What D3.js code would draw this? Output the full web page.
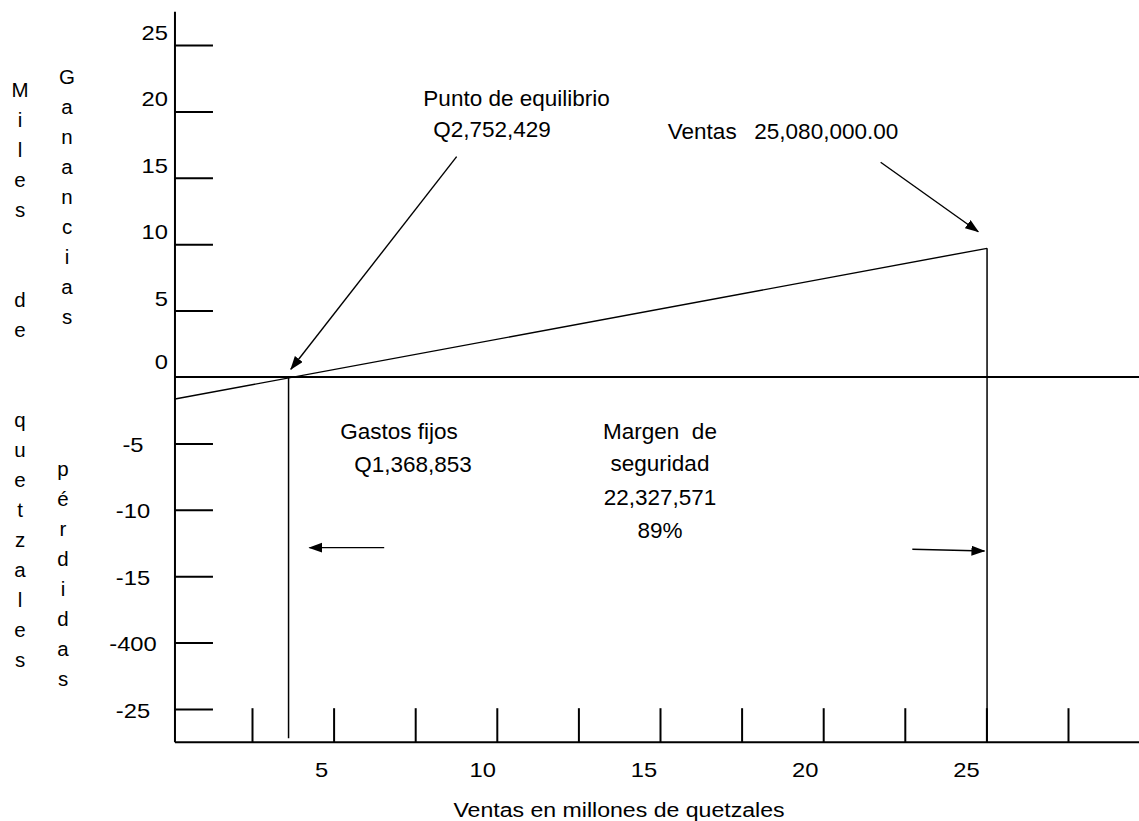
<!DOCTYPE html>
<html>
<head>
<meta charset="utf-8">
<script src="https://cdn.jsdelivr.net/npm/d3@7"></script>
<style>
  html, body { margin: 0; padding: 0; background: #fff; }
  svg { display: block; }
  text { font-family: "Liberation Sans", Arial, Helvetica, sans-serif; fill: #000; }
</style>
</head>
<body>
<svg id="chart" width="1139" height="821"></svg>
<script>
// ---------------- data ----------------
const yTickValues = [25, 20, 15, 10, 5, -5, -10, -15, -20, -25];
const yLabelValues = [25, 20, 15, 10, 5, 0, -5, -10, -15, -20, -25];
const yLabelTexts = ["25", "20", "15", "10", "5", "0", "-5", "-10", "-15", "-400", "-25"];
const xTickValues = [2.5, 5, 7.5, 10, 12.5, 15, 17.5, 20, 22.5, 25, 27.5];
const xLabelValues = [5, 10, 15, 20, 25];
const xLabelTexts = ["5", "10", "15", "20", "25"];
const xTitle = "Ventas en millones de quetzales";
const yTitleOuter = "Miles  de  quetzales";
const yTitleGain = "Ganancias";
const yTitleLoss = "pérdidas";

// profit line (millions of sales, thousands of quetzales)
const profitX = [0.14, 25.02];
const profitY = [-1.66, 9.69];
const breakEvenSales = 3.62;   // where the profit line meets zero
const totalSales = 25.02;      // Ventas 25,080,000.00
const bottomValue = -27.2;

// annotation texts
const breakEvenLabel = ["Punto de equilibrio", "Q2,752,429"];
const salesLabel = ["Ventas", "25,080,000.00"];
const fixedCostLabel = ["Gastos fijos", "Q1,368,853"];
const marginLabel = ["Margen  de", "seguridad", "22,327,571", "89%"];

// arrows [x1, y1, x2(tip), y2(tip)] in data units
const arrows = [
  [8.77, 16.59, 3.69, 0.58],
  [21.76, 16.17, 24.75, 10.94],
  [6.55, -12.85, 4.26, -12.85],
  [22.73, -12.97, 24.94, -13.10]
];

// ---------------- scales ----------------
const svg = d3.select("#chart");
const x = d3.scaleLinear().domain([0, 30]).range([170.4, 170.4 + 30 * 32.64]);
const y = d3.scaleLinear().domain([-27.5, 27.5]).range([742.2, 11.8]);
const xLabelPos = d3.scaleLinear().domain([5, 25]).range([x(5) - 12, x(25) - 20]);
const xAxisStart = 0.14;
const xAxisEnd = x.invert(1139);

const tickFont = 21;
const stretch = 1.13;

// arrow marker
svg.append("defs").append("marker")
  .attr("id", "arrowhead")
  .attr("markerUnits", "userSpaceOnUse")
  .attr("markerWidth", 14).attr("markerHeight", 11)
  .attr("refX", 13).attr("refY", 5)
  .attr("orient", "auto")
  .append("path").attr("d", "M0,0 L14,5 L0,10 Z").attr("fill", "#000");

// ---------------- axes ----------------
const yAxis = d3.axisRight(y).tickValues(yTickValues).tickSize(38).tickFormat("");
const gy = svg.append("g").attr("transform", `translate(${x(xAxisStart)},0)`).call(yAxis);
gy.select(".domain").remove();
gy.selectAll(".tick line").attr("stroke", "#000").attr("stroke-width", 2);

const xAxis = d3.axisTop(x).tickValues(xTickValues).tickSize(34).tickFormat("");
const gx = svg.append("g").attr("transform", `translate(0,${y(-27.5)})`).call(xAxis);
gx.select(".domain").remove();
gx.selectAll(".tick line").attr("stroke", "#000").attr("stroke-width", 2);

// axis lines
svg.append("line")
  .attr("x1", x(xAxisStart)).attr("x2", x(xAxisStart))
  .attr("y1", y(27.5)).attr("y2", y(-27.5))
  .attr("stroke", "#000").attr("stroke-width", 2);
svg.append("line")
  .attr("x1", x(xAxisStart)).attr("x2", x(xAxisEnd))
  .attr("y1", y(-27.5)).attr("y2", y(-27.5))
  .attr("stroke", "#000").attr("stroke-width", 2);
// zero line
svg.append("line")
  .attr("x1", x(xAxisStart)).attr("x2", x(xAxisEnd))
  .attr("y1", y(0)).attr("y2", y(0))
  .attr("stroke", "#000").attr("stroke-width", 1.8);

// y tick labels
svg.append("g").selectAll("text")
  .data(yLabelValues)
  .join("text")
  .attr("font-size", tickFont)
  .attr("text-anchor", d => d >= 0 ? "end" : "middle")
  .attr("transform", (d) => {
    const tx = d >= 0 ? 168 : 133;
    const ty = d > 0 ? y(d) - 5 : (d === 0 ? y(d) - 8 : y(d) + 8.5);
    return `translate(${tx},${ty}) scale(${stretch},1)`;
  })
  .text((d, i) => yLabelTexts[i]);

// x tick labels
svg.append("g").selectAll("text")
  .data(xLabelValues)
  .join("text")
  .attr("font-size", tickFont)
  .attr("text-anchor", "middle")
  .attr("transform", d => `translate(${xLabelPos(d)},777) scale(${stretch},1)`)
  .text((d, i) => xLabelTexts[i]);

// x title
svg.append("text")
  .attr("font-size", tickFont)
  .attr("text-anchor", "middle")
  .attr("transform", `translate(619,817) scale(1.1,1)`)
  .text(xTitle);

// vertical y titles
function verticalText(str, cx, firstBaseline, step) {
  svg.append("g").selectAll("text")
    .data(Array.from(str))
    .join("text")
    .attr("font-size", 20.5)
    .attr("text-anchor", "middle")
    .attr("x", cx)
    .attr("y", (d, i) => firstBaseline + i * step)
    .text(d => d);
}
verticalText(yTitleOuter, 20, 97, 30);
verticalText(yTitleGain, 67, 84, 30);
verticalText(yTitleLoss, 63, 475.5, 30);

// ---------------- marks ----------------
const line = d3.line().x(d => x(d[0])).y(d => y(d[1]));
svg.append("path")
  .datum(d3.zip(profitX, profitY))
  .attr("d", line)
  .attr("fill", "none").attr("stroke", "#000").attr("stroke-width", 1.4);

// break-even vertical
svg.append("line")
  .attr("x1", x(breakEvenSales)).attr("x2", x(breakEvenSales))
  .attr("y1", y(0)).attr("y2", y(bottomValue))
  .attr("stroke", "#000").attr("stroke-width", 1.5);
// sales vertical
svg.append("line")
  .attr("x1", x(totalSales)).attr("x2", x(totalSales))
  .attr("y1", y(profitY[1])).attr("y2", y(-27.5))
  .attr("stroke", "#000").attr("stroke-width", 1.5);

// arrows
svg.append("g").selectAll("line")
  .data(arrows)
  .join("line")
  .attr("x1", d => x(d[0])).attr("y1", d => y(d[1]))
  .attr("x2", d => x(d[2])).attr("y2", d => y(d[3]))
  .attr("stroke", "#000").attr("stroke-width", 1.4)
  .attr("marker-end", "url(#arrowhead)");

// ---------------- annotations ----------------
const annFont = 22.5;
function ann(str, xv, yv, anchor) {
  svg.append("text")
    .attr("font-size", annFont)
    .attr("text-anchor", anchor || "start")
    .attr("x", x(xv)).attr("y", y(yv))
    .style("white-space", "pre")
    .text(str);
}
ann(breakEvenLabel[0], 7.75, 20.41);
ann(breakEvenLabel[1], 8.05, 18.05);
ann(salesLabel[0], 15.24, 17.9);
ann(salesLabel[1], 17.89, 17.9);
ann(fixedCostLabel[0], 5.20, -4.67);
ann(fixedCostLabel[1], 5.63, -7.15);
ann(marginLabel[0], 15.0, -4.67, "middle");
ann(marginLabel[1], 15.0, -7.1, "middle");
ann(marginLabel[2], 15.0, -9.64, "middle");
ann(marginLabel[3], 15.0, -12.12, "middle");
</script>
</body>
</html>
